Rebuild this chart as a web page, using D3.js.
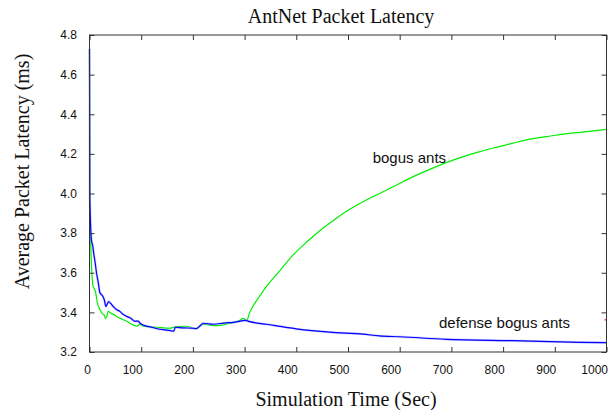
<!DOCTYPE html>
<html>
<head>
<meta charset="utf-8">
<script src="https://cdn.jsdelivr.net/npm/d3@7"></script>
<style>
  html, body { margin: 0; padding: 0; background: #fff; }
  svg { display: block; }
</style>
</head>
<body>
<svg id="chart" width="608" height="410"></svg>
<script>
// ---- data ----
const xTicks = [0, 100, 200, 300, 400, 500, 600, 700, 800, 900, 1000];
const yTicks = [3.2, 3.4, 3.6, 3.8, 4.0, 4.2, 4.4, 4.6, 4.8];

const bogusTime = [0, 0.6, 2, 4, 7, 9, 12, 15, 21, 26, 29, 31, 34, 36, 42, 46, 55, 62, 72, 82, 92, 97, 104, 115, 130, 155, 168, 187, 200, 206, 220, 240, 256, 272, 278, 291, 297, 304, 310, 326, 342, 368, 394, 420, 449, 475, 503, 530, 561, 594, 626, 658, 690, 723, 755, 787, 819, 852, 884, 916, 949, 1000];
const bogusLatency = [4.73, 3.95, 3.78, 3.63, 3.53, 3.52, 3.50, 3.45, 3.41, 3.39, 3.385, 3.368, 3.385, 3.405, 3.395, 3.39, 3.375, 3.367, 3.355, 3.34, 3.33, 3.34, 3.33, 3.328, 3.325, 3.32, 3.328, 3.33, 3.32, 3.318, 3.34, 3.333, 3.336, 3.345, 3.348, 3.36, 3.37, 3.36, 3.40, 3.47, 3.53, 3.61, 3.69, 3.755, 3.82, 3.87, 3.92, 3.96, 4.00, 4.043, 4.085, 4.122, 4.156, 4.186, 4.211, 4.233, 4.254, 4.274, 4.287, 4.30, 4.309, 4.324];

const defenseTime = [0, 0.6, 2, 4, 6, 8, 11, 13.5, 17, 20, 23, 26, 29, 31.5, 34, 37, 41, 45.6, 52, 58.6, 65, 71.6, 80, 87.6, 94, 98, 103.7, 120, 136, 150, 158.6, 163, 166, 180, 200, 206, 215, 220, 239, 263, 278, 290, 301, 310, 342, 400, 465, 529, 561, 600, 690, 819, 949, 1000];
const defenseLatency = [4.73, 3.99, 3.85, 3.76, 3.74, 3.70, 3.65, 3.60, 3.55, 3.50, 3.49, 3.48, 3.46, 3.43, 3.44, 3.455, 3.445, 3.43, 3.415, 3.405, 3.39, 3.38, 3.37, 3.355, 3.356, 3.345, 3.336, 3.325, 3.315, 3.31, 3.307, 3.305, 3.325, 3.322, 3.32, 3.318, 3.335, 3.345, 3.34, 3.347, 3.35, 3.355, 3.36, 3.353, 3.34, 3.317, 3.30, 3.29, 3.281, 3.277, 3.264, 3.257, 3.249, 3.247];

const redMarkTime = [996, 1000];
const redMarkLatency = [3.362, 3.362];

const seriesNames = ["bogus ants", "defense bogus ants"];
const seriesColors = ["#00ee00", "#0000ff"];

// ---- layout ----
const svg = d3.select("#chart");
const mLeft = 89.5, mRight = 606.5, mTop = 35, mBottom = 352;
const x = d3.scaleLinear().domain([0, 1000]).range([mLeft, mRight]);
const y = d3.scaleLinear().domain([3.2, 4.8]).range([mBottom, mTop]);

const sans = "'Liberation Sans', Arial, Helvetica, sans-serif";
const serif = "'Liberation Serif', 'Times New Roman', Times, serif";

// lines
const zip = (ts, vs) => ts.map((t, i) => [t, vs[i]]);
const line = d3.line().curve(d3.curveMonotoneX).x(d => x(d[0])).y(d => y(d[1]));

svg.append("path")
  .datum(zip(bogusTime, bogusLatency))
  .attr("fill", "none").attr("stroke", seriesColors[0])
  .attr("stroke-width", 1.2).attr("stroke-linejoin", "round")
  .attr("d", line);

svg.append("path")
  .datum(zip(defenseTime, defenseLatency))
  .attr("fill", "none").attr("stroke", "#9a9aff").attr("stroke-opacity", 0.45)
  .attr("stroke-width", 2.4).attr("d", line);
svg.append("path")
  .datum(zip(defenseTime, defenseLatency))
  .attr("fill", "none").attr("stroke", seriesColors[1])
  .attr("stroke-width", 1.2).attr("stroke-linejoin", "round")
  .attr("d", line);

svg.append("path")
  .datum(zip(redMarkTime, redMarkLatency))
  .attr("fill", "none").attr("stroke", "#ff0000")
  .attr("stroke-width", 1).attr("d", line);

// axes (inward ticks on all four sides)
const axisColor = "#333";
function styleAxis(g) {
  g.select(".domain").remove();
  g.selectAll(".tick line").attr("stroke", axisColor);
  g.selectAll(".tick text").attr("fill", "#111")
    .style("font-family", sans).style("font-size", "12px");
}
svg.append("g").attr("transform", `translate(0,${mBottom})`)
  .call(d3.axisBottom(x).tickValues(xTicks).tickSize(-5).tickPadding(13.5).tickFormat(d3.format("d")))
  .call(styleAxis)
  .call(g => g.selectAll(".tick text").attr("text-anchor", "end").attr("dx", 1));
svg.append("g").attr("transform", `translate(0,${mTop})`)
  .call(d3.axisTop(x).tickValues(xTicks).tickSize(-5).tickFormat(""))
  .call(styleAxis);
svg.append("g").attr("transform", `translate(${mLeft},0)`)
  .call(d3.axisLeft(y).tickValues(yTicks).tickSize(-5).tickPadding(12.5).tickFormat(d3.format(".1f")))
  .call(styleAxis);
svg.append("g").attr("transform", `translate(${mRight},0)`)
  .call(d3.axisRight(y).tickValues(yTicks).tickSize(-5).tickFormat(""))
  .call(styleAxis);

svg.append("rect")
  .attr("x", mLeft).attr("y", mTop).attr("width", mRight - mLeft).attr("height", mBottom - mTop)
  .attr("fill", "none").attr("stroke", axisColor).attr("stroke-width", 1);

// titles
svg.append("text").attr("x", 341).attr("y", 23).attr("text-anchor", "middle")
  .style("font-family", serif).style("font-size", "20px").attr("fill", "#111")
  .text("AntNet Packet Latency");
svg.append("text").attr("x", 346).attr("y", 406).attr("text-anchor", "middle")
  .style("font-family", serif).style("font-size", "20px").attr("fill", "#111")
  .text("Simulation Time (Sec)");
svg.append("text").attr("transform", "translate(28.5,171.5) rotate(-90)").attr("text-anchor", "middle")
  .style("font-family", serif).style("font-size", "20px").attr("fill", "#111")
  .text("Average Packet Latency (ms)");

// series annotations
svg.append("text").attr("x", 372.7).attr("y", 162.7)
  .style("font-family", sans).style("font-size", "15px").attr("fill", "#111")
  .text(seriesNames[0]);
svg.append("text").attr("x", 439).attr("y", 327.5)
  .style("font-family", sans).style("font-size", "15px").attr("fill", "#111")
  .text(seriesNames[1]);
</script>
</body>
</html>
